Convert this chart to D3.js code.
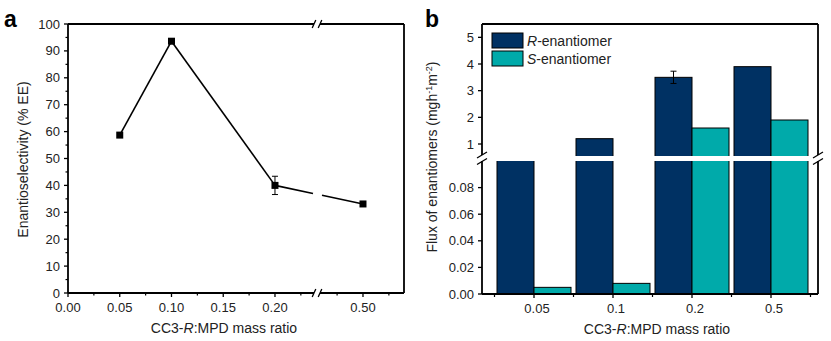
<!DOCTYPE html>
<html>
<head>
<meta charset="utf-8">
<script src="https://cdn.jsdelivr.net/npm/d3@7/dist/d3.min.js"></script>
<style>
  body { margin: 0; background: #fff; }
  text { font-family: "Liberation Sans", Arial, sans-serif; fill: #222; }
</style>
</head>
<body>
<div id="chart"></div>
<script>
// ---- panel a: enantioselectivity vs mass ratio
var ratiosA = [0.05, 0.10, 0.20, 0.50];
var eeValues = [58.7, 93.6, 40.0, 33.1];
var eeErrors = [0, 0.6, 3.4, 0];
var xTicksA = [0, 0.05, 0.10, 0.15, 0.20, 0.50];
var xMinorA = [0.025, 0.075, 0.125, 0.175, 0.225, 0.475, 0.525];
var yTicksA = [0, 10, 20, 30, 40, 50, 60, 70, 80, 90, 100];
var yMinorA = [5, 15, 25, 35, 45, 55, 65, 75, 85, 95];

// ---- panel b: flux of each enantiomer
var ratioLabels = ["0.05", "0.1", "0.2", "0.5"];
var fluxR = [0.3, 1.2, 3.5, 3.9];
var fluxRErr = [0, 0, 0.23, 0];
var fluxS = [0.005, 0.008, 1.6, 1.9];
var yTicksLow = [0, 0.02, 0.04, 0.06, 0.08];
var yTicksHigh = [1, 2, 3, 4, 5];
var seriesNames = ["R", "S"];
var seriesColors = ["#003163", "#00aaaa"];

var W = 831, H = 341;
var svg = d3.select("#chart").append("svg")
    .attr("width", W).attr("height", H);

var axisW = 1.8;

function slash(g, x, y, dx, dy) {
    g.append("line")
        .attr("x1", x - dx).attr("y1", y + dy)
        .attr("x2", x + dx).attr("y2", y - dy)
        .attr("stroke", "#000").attr("stroke-width", 1.3);
}

// =================== panel a ===================
(function () {
    var left = 68, right = 404, top = 24, bottom = 293, brk = 317;
    var g = svg.append("g");

    var x1 = d3.scaleLinear().domain([0, 0.2406]).range([left, brk]);
    var x2 = d3.scaleLinear().domain([0.4556, 0.5396]).range([brk, right]);
    var xa = function (v) { return v < 0.3 ? x1(v) : x2(v); };
    var y = d3.scaleLinear().domain([0, 100]).range([bottom, top]);

    // frame with a break on top and bottom edges
    var gap = 3;
    var frame = g.append("g").attr("stroke", "#000").attr("stroke-width", axisW).attr("fill", "none");
    frame.append("line").attr("x1", left).attr("x2", left).attr("y1", top).attr("y2", bottom);
    frame.append("line").attr("x1", right).attr("x2", right).attr("y1", top).attr("y2", bottom);
    [top, bottom].forEach(function (yy) {
        frame.append("line").attr("x1", left).attr("x2", brk - gap).attr("y1", yy).attr("y2", yy);
        frame.append("line").attr("x1", brk + gap).attr("x2", right).attr("y1", yy).attr("y2", yy);
        slash(g, brk - gap, yy, 1.8, 4);
        slash(g, brk + gap, yy, 1.8, 4);
    });

    // x ticks
    var xt = g.append("g");
    xTicksA.forEach(function (v) {
        xt.append("line").attr("x1", xa(v)).attr("x2", xa(v))
            .attr("y1", bottom).attr("y2", bottom + 4)
            .attr("stroke", "#000").attr("stroke-width", 1.3);
        xt.append("text").attr("x", xa(v)).attr("y", bottom + 19)
            .attr("text-anchor", "middle").style("font-size", "13px")
            .text(d3.format(".2f")(v));
    });
    xMinorA.forEach(function (v) {
        xt.append("line").attr("x1", xa(v)).attr("x2", xa(v))
            .attr("y1", bottom).attr("y2", bottom + 2.5)
            .attr("stroke", "#000").attr("stroke-width", 1.2);
    });

    // y ticks
    var yt = g.append("g");
    yTicksA.forEach(function (v) {
        yt.append("line").attr("x1", left - 4).attr("x2", left)
            .attr("y1", y(v)).attr("y2", y(v))
            .attr("stroke", "#000").attr("stroke-width", 1.3);
        yt.append("text").attr("x", left - 8).attr("y", y(v) + 4.5)
            .attr("text-anchor", "end").style("font-size", "13px").text(v);
    });
    yMinorA.forEach(function (v) {
        yt.append("line").attr("x1", left - 2.5).attr("x2", left)
            .attr("y1", y(v)).attr("y2", y(v))
            .attr("stroke", "#000").attr("stroke-width", 1.2);
    });

    // line, cut where it crosses the axis break
    var pts = ratiosA.map(function (r, i) { return [xa(r), y(eeValues[i])]; });
    var lineG = g.append("g").attr("stroke", "#000").attr("stroke-width", 1.6).attr("fill", "none");
    for (var i = 0; i < pts.length - 1; i++) {
        var a = pts[i], b = pts[i + 1];
        if (a[0] < brk && b[0] > brk) {
            var t1 = (brk - 4 - a[0]) / (b[0] - a[0]), t2 = (brk + 5 - a[0]) / (b[0] - a[0]);
            lineG.append("line").attr("x1", a[0]).attr("y1", a[1])
                .attr("x2", a[0] + t1 * (b[0] - a[0])).attr("y2", a[1] + t1 * (b[1] - a[1]));
            lineG.append("line").attr("x1", a[0] + t2 * (b[0] - a[0])).attr("y1", a[1] + t2 * (b[1] - a[1]))
                .attr("x2", b[0]).attr("y2", b[1]);
        } else {
            lineG.append("line").attr("x1", a[0]).attr("y1", a[1]).attr("x2", b[0]).attr("y2", b[1]);
        }
    }

    // error bars
    ratiosA.forEach(function (r, i) {
        if (!eeErrors[i]) return;
        var cx = xa(r);
        var eg = g.append("g").attr("stroke", "#000").attr("stroke-width", 1);
        eg.append("line").attr("x1", cx).attr("x2", cx)
            .attr("y1", y(eeValues[i] - eeErrors[i])).attr("y2", y(eeValues[i] + eeErrors[i]));
        [eeValues[i] - eeErrors[i], eeValues[i] + eeErrors[i]].forEach(function (v) {
            eg.append("line").attr("x1", cx - 3).attr("x2", cx + 3).attr("y1", y(v)).attr("y2", y(v));
        });
    });

    // markers
    g.selectAll("rect.pt").data(ratiosA).enter().append("rect")
        .attr("class", "pt")
        .attr("x", function (d) { return xa(d) - 3.5; })
        .attr("y", function (d, i) { return y(eeValues[i]) - 3.5; })
        .attr("width", 7).attr("height", 7).attr("fill", "#000");

    // titles
    g.append("text").attr("x", (left + right) / 2 - 12).attr("y", 333)
        .attr("text-anchor", "middle").style("font-size", "14px")
        .html('CC3-<tspan font-style="italic">R</tspan>:MPD mass ratio');
    g.append("text").attr("transform", "translate(28," + ((top + bottom) / 2 + 1) + ") rotate(-90)")
        .attr("text-anchor", "middle").style("font-size", "14px")
        .text("Enantioselectivity (% EE)");
    g.append("text").attr("x", 4).attr("y", 27)
        .style("font-size", "23px").style("font-weight", "bold").style("fill", "#000").text("a");
})();

// =================== panel b ===================
(function () {
    var left = 482, right = 818, top = 24, bottom = 294;
    var lowTop = 161, highBottom = 156;
    var g = svg.append("g");

    var x = d3.scalePoint().domain(ratioLabels).range([534, 771]);
    var step = x.step();
    var barW = 37;
    var yLow = d3.scaleLinear().domain([0, 0.1]).range([bottom, lowTop]);
    var yHigh = d3.scaleLinear().domain([0.55, 5.5]).range([highBottom, top]);

    var defs = svg.append("defs");
    defs.append("clipPath").attr("id", "clip-low").append("rect")
        .attr("x", left).attr("y", lowTop).attr("width", right - left).attr("height", bottom - lowTop);
    defs.append("clipPath").attr("id", "clip-high").append("rect")
        .attr("x", left).attr("y", top).attr("width", right - left).attr("height", highBottom - top);

    var rows = [];
    ratioLabels.forEach(function (lab, i) {
        rows.push({ lab: lab, s: 0, v: fluxR[i] });
        rows.push({ lab: lab, s: 1, v: fluxS[i] });
    });
    var bx = function (d) { return d.s === 0 ? x(d.lab) - barW : x(d.lab); };

    // lower segment of the broken axis
    g.append("g").attr("clip-path", "url(#clip-low)")
        .selectAll("rect").data(rows).enter().append("rect")
        .attr("x", bx).attr("width", barW)
        .attr("y", function (d) { return Math.max(yLow(d.v), lowTop - 5); })
        .attr("height", function (d) { return bottom - Math.max(yLow(d.v), lowTop - 5); })
        .attr("fill", function (d) { return seriesColors[d.s]; })
        .attr("stroke", "#000").attr("stroke-width", 1);

    // upper segment
    g.append("g").attr("clip-path", "url(#clip-high)")
        .selectAll("rect").data(rows.filter(function (d) { return d.v > 0.55; })).enter().append("rect")
        .attr("x", bx).attr("width", barW)
        .attr("y", function (d) { return yHigh(d.v); })
        .attr("height", function (d) { return highBottom + 5 - yHigh(d.v); })
        .attr("fill", function (d) { return seriesColors[d.s]; })
        .attr("stroke", "#000").attr("stroke-width", 1);

    // error bar on R
    ratioLabels.forEach(function (lab, i) {
        if (!fluxRErr[i]) return;
        var cx = x(lab) - barW / 2;
        var eg = g.append("g").attr("stroke", "#000").attr("stroke-width", 1);
        eg.append("line").attr("x1", cx).attr("x2", cx)
            .attr("y1", yHigh(fluxR[i] - fluxRErr[i])).attr("y2", yHigh(fluxR[i] + fluxRErr[i]));
        [fluxR[i] - fluxRErr[i], fluxR[i] + fluxRErr[i]].forEach(function (v) {
            eg.append("line").attr("x1", cx - 3).attr("x2", cx + 3).attr("y1", yHigh(v)).attr("y2", yHigh(v));
        });
    });

    // frame, broken on left and right edges
    var frame = g.append("g").attr("stroke", "#000").attr("stroke-width", axisW);
    frame.append("line").attr("x1", left).attr("x2", right).attr("y1", top).attr("y2", top);
    frame.append("line").attr("x1", left).attr("x2", right).attr("y1", bottom).attr("y2", bottom);
    [left, right].forEach(function (xx) {
        frame.append("line").attr("x1", xx).attr("x2", xx).attr("y1", top).attr("y2", highBottom - 1);
        frame.append("line").attr("x1", xx).attr("x2", xx).attr("y1", lowTop).attr("y2", bottom);
        slash(g, xx, highBottom - 1, 5, 3);
        slash(g, xx, lowTop + 0.5, 5, 3);
    });

    // x ticks: major at group centres, minor between groups
    ratioLabels.forEach(function (lab) {
        g.append("line").attr("x1", x(lab)).attr("x2", x(lab))
            .attr("y1", bottom).attr("y2", bottom + 4)
            .attr("stroke", "#000").attr("stroke-width", 1.3);
        g.append("text").attr("x", x(lab) + 3).attr("y", bottom + 19)
            .attr("text-anchor", "middle").style("font-size", "13px").text(lab);
    });
    d3.range(-0.5, ratioLabels.length, 1).forEach(function (k) {
        var xx = x(ratioLabels[0]) + k * step;
        g.append("line").attr("x1", xx).attr("x2", xx)
            .attr("y1", bottom).attr("y2", bottom + 3)
            .attr("stroke", "#000").attr("stroke-width", 1.2);
    });

    // y ticks on both segments
    var yTick = function (yy, label) {
        g.append("line").attr("x1", left - 4).attr("x2", left).attr("y1", yy).attr("y2", yy)
            .attr("stroke", "#000").attr("stroke-width", 1.3);
        g.append("text").attr("x", left - 8).attr("y", yy + 4.5)
            .attr("text-anchor", "end").style("font-size", "13px").text(label);
    };
    yTicksLow.forEach(function (v) { yTick(yLow(v), d3.format(".2f")(v)); });
    yTicksHigh.forEach(function (v) { yTick(yHigh(v), v); });

    // legend
    var lg = g.append("g");
    seriesNames.forEach(function (nm, i) {
        var ly = 33 + i * 18;
        lg.append("rect").attr("x", 492).attr("y", ly).attr("width", 31).attr("height", 15)
            .attr("fill", seriesColors[i]).attr("stroke", "#000").attr("stroke-width", 1);
        lg.append("text").attr("x", 527).attr("y", ly + 12.5).style("font-size", "14px")
            .html('<tspan font-style="italic">' + nm + '</tspan>-enantiomer');
    });

    // titles
    g.append("text").attr("x", 657).attr("y", 334)
        .attr("text-anchor", "middle").style("font-size", "14px")
        .html('CC3-<tspan font-style="italic">R</tspan>:MPD mass ratio');
    g.append("text").attr("transform", "translate(437,157) rotate(-90)")
        .attr("text-anchor", "middle").style("font-size", "14px")
        .html('Flux of enantiomers (mgh<tspan dy="-5" font-size="9px">-1</tspan><tspan dy="5">m</tspan><tspan dy="-5" font-size="9px">-2</tspan><tspan dy="5">)</tspan>');
    g.append("text").attr("x", 425).attr("y", 27)
        .style("font-size", "23px").style("font-weight", "bold").style("fill", "#000").text("b");
})();
</script>
</body>
</html>
